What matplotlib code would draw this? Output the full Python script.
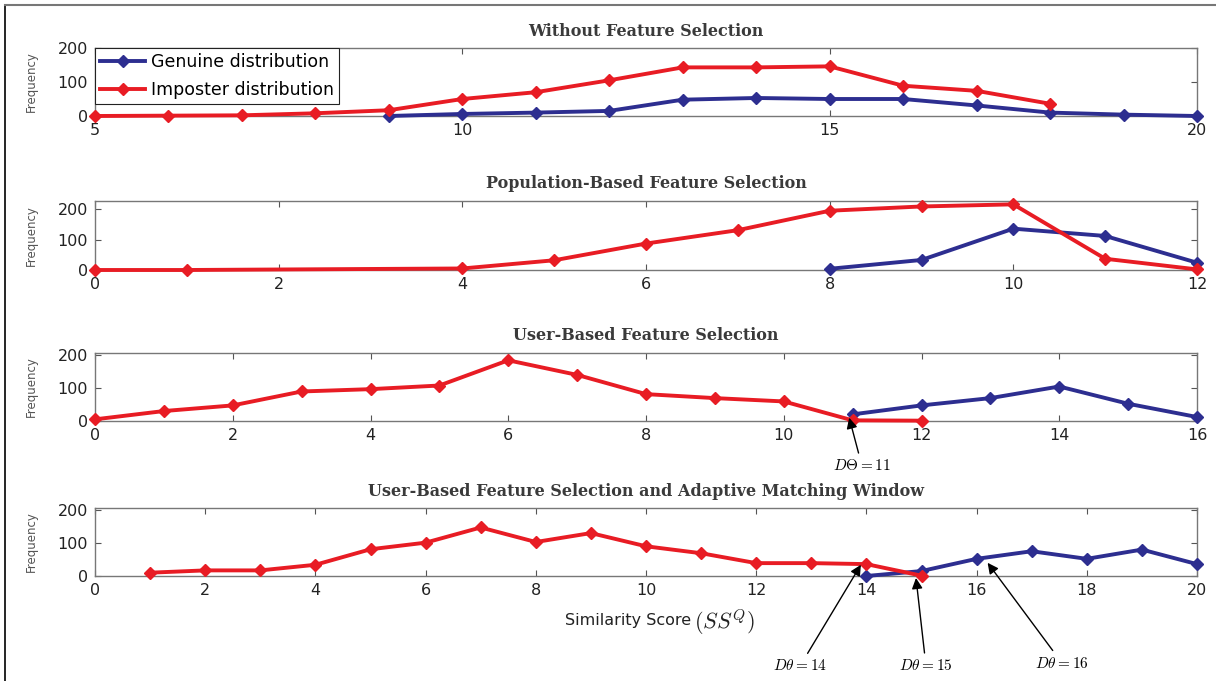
import matplotlib.pyplot as plt
from matplotlib.lines import Line2D

plt.rcParams['mathtext.fontset'] = 'cm'

# Datos
titles = ["Without Feature Selection",
          "Population-Based Feature Selection",
          "User-Based Feature Selection",
          "User-Based Feature Selection and Adaptive Matching Window"]

# Panel 1
p1_imp_x = [5, 6, 7, 8, 9, 10, 11, 12, 13, 14, 15, 16, 17, 18]
p1_imp_y = [0, 1, 2, 8, 17, 50, 70, 105, 143, 143, 146, 89, 74, 36]
p1_gen_x = [9, 10, 11, 12, 13, 14, 15, 16, 17, 18, 19, 20]
p1_gen_y = [0, 6, 10, 15, 48, 53, 50, 50, 31, 10, 4, 0]

# Panel 2
p2_imp_x = [0, 1, 4, 5, 6, 7, 8, 9, 10, 11, 12]
p2_imp_y = [0, 0, 5, 32, 87, 131, 195, 209, 216, 37, 2]
p2_gen_x = [8, 9, 10, 11, 12]
p2_gen_y = [4, 33, 136, 112, 24]

# Panel 3
p3_imp_x = [0, 1, 2, 3, 4, 5, 6, 7, 8, 9, 10, 11, 12]
p3_imp_y = [5, 30, 47, 89, 96, 107, 183, 139, 81, 69, 59, 2, 1]
p3_gen_x = [11, 12, 13, 14, 15, 16]
p3_gen_y = [20, 47, 69, 104, 52, 12]

# Panel 4
p4_imp_x = [1, 2, 3, 4, 5, 6, 7, 8, 9, 10, 11, 12, 13, 14, 15]
p4_imp_y = [10, 17, 17, 34, 81, 101, 147, 103, 130, 90, 69, 39, 39, 36, 1]
p4_gen_x = [14, 15, 16, 17, 18, 19, 20]
p4_gen_y = [0, 15, 52, 75, 52, 80, 36]

xlims = [(5, 20), (0, 12), (0, 16), (0, 20)]
xticks = [[5, 10, 15, 20], list(range(0, 13, 2)), list(range(0, 17, 2)), list(range(0, 21, 2))]
ylims = [(0, 200), (0, 227), (0, 205), (0, 206)]

series = [(p1_gen_x, p1_gen_y, p1_imp_x, p1_imp_y),
          (p2_gen_x, p2_gen_y, p2_imp_x, p2_imp_y),
          (p3_gen_x, p3_gen_y, p3_imp_x, p3_imp_y),
          (p4_gen_x, p4_gen_y, p4_imp_x, p4_imp_y)]

blue = "#2d2e90"
red = "#e81c24"
W, H = 1216, 681

fig = plt.figure(figsize=(W / 100, H / 100), dpi=100)

# posiciones de los ejes en píxeles (arriba, abajo)
boxes = [(48, 116), (201, 270), (353, 421), (508, 576)]
axes = []
for i, (top, bot) in enumerate(boxes):
    ax = fig.add_axes([95 / W, 1 - bot / H, 1102 / W, (bot - top) / H])
    gx, gy, ix, iy = series[i]
    ax.plot(gx, gy, color=blue, lw=2.8, marker="D", ms=6.5, label="Genuine distribution", clip_on=False, zorder=3)
    ax.plot(ix, iy, color=red, lw=2.8, marker="D", ms=6.5, label="Imposter distribution", clip_on=False, zorder=3)
    ax.set_xlim(*xlims[i])
    ax.set_ylim(*ylims[i])
    ax.set_xticks(xticks[i])
    ax.set_yticks([0, 100, 200])
    ax.tick_params(direction="in", top=True, right=True, length=4, width=0.8,
                   colors="#555555", labelcolor="#222222", labelsize=11.5, pad=5)
    for s in ax.spines.values():
        s.set_color("#777777")
        s.set_linewidth(1.0)
    ax.set_title(titles[i], family="DejaVu Serif", fontsize=11.5, fontweight="bold",
                 color="#3a3a3a", pad=9)
    ax.set_ylabel("Frequency", fontsize=8.5, color="#555555", labelpad=14)
    axes.append(ax)

leg = axes[0].legend(loc="upper left", borderaxespad=0, fontsize=12.5, fancybox=False,
                     edgecolor="#222222", framealpha=1, handlelength=2.6,
                     handletextpad=0.3, labelspacing=0.55, borderpad=0.3)
leg.get_frame().set_linewidth(0.8)

# Etiqueta del eje x (texto + parte matemática más grande)
fig.text(691 / W, 1 - 620 / H, "Similarity Score", ha="right", va="center",
         fontsize=11.5, color="#222222")
fig.text(694 / W, 1 - 622 / H, r"$(SS^Q)$", ha="left", va="center", fontsize=16, color="#222222")

# Flechas de los umbrales
arrow = dict(arrowstyle="-|>", color="black", lw=1.0, mutation_scale=16, shrinkA=2, shrinkB=0)
axes[2].annotate(r"$D\Theta = 11$", xy=(10.95, 10), xytext=(862 / W, 1 - 466 / H),
                 textcoords="figure fraction", ha="center", va="center", fontsize=11,
                 arrowprops=arrow, annotation_clip=False)
axes[3].annotate(r"$D\theta = 14$", xy=(13.9, 34), xytext=(800 / W, 1 - 666 / H),
                 textcoords="figure fraction", ha="center", va="center", fontsize=11,
                 arrowprops=arrow, annotation_clip=False)
axes[3].annotate(r"$D\theta = 15$", xy=(14.9, -6), xytext=(926 / W, 1 - 666 / H),
                 textcoords="figure fraction", ha="center", va="center", fontsize=11,
                 arrowprops=arrow, annotation_clip=False)
axes[3].annotate(r"$D\theta = 16$", xy=(16.2, 40), xytext=(1062 / W, 1 - 663 / H),
                 textcoords="figure fraction", ha="center", va="center", fontsize=11,
                 arrowprops=arrow, annotation_clip=False)

# Marco de la figura (izquierda y arriba)
fig.add_artist(Line2D([5 / W, 5 / W], [0, 1 - 5 / H], color="black", lw=1.2))
fig.add_artist(Line2D([5 / W, 1], [1 - 5 / H, 1 - 5 / H], color="#777777", lw=1.5))

fig.savefig("out.png", dpi=100)
